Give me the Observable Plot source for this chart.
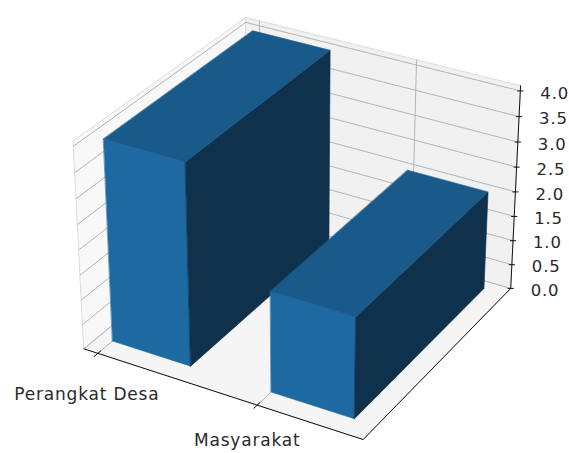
<!DOCTYPE html>
<html><head><meta charset="utf-8">
<script src="https://cdn.jsdelivr.net/npm/d3@7"></script>
<script src="https://cdn.jsdelivr.net/npm/@observablehq/plot@0.6"></script>
<style>html,body{margin:0;padding:0;background:#fff;overflow:hidden}svg{display:block}</style>
</head><body><div id="chart"></div>
<script>
const categories = ["Perangkat Desa", "Masyarakat"];
const xPositions = [0, 1];
const values = [4, 2];
const zTicks = [0, 0.5, 1, 1.5, 2, 2.5, 3, 3.5, 4];
const barWidth = 0.5, barDepth = 1;
const xLim = [-0.09, 1.63], yLim = [-0.095, 1.05], zLim = [0, 4.1];
const colors = {front: "#1d69a1", top: "#195a8a", side: "#0f314b"};

// mplot3d style camera: elev 30, azim -60, dist 10, box aspect 4:4:3
const k = 0.3137;
const box = [4 * k, 4 * k, 3 * k];
const U = [0.8660254, 0.5, 0], V = [-0.25, 0.4330127, 0.8660254], N = [0.4330127, -0.75, 0.5];
const dot = (a, b) => a[0] * b[0] + a[1] * b[1] + a[2] * b[2];
function project([x, y, z]) {
  const p = [
    ((x - xLim[0]) / (xLim[1] - xLim[0]) - 0.5) * box[0],
    ((y - yLim[0]) / (yLim[1] - yLim[0]) - 0.5) * box[1],
    ((z - zLim[0]) / (zLim[1] - zLim[0]) - 0.5) * box[2]
  ];
  const d = 10 - dot(p, N);
  return {px: dot(p, U) / d, py: dot(p, V) / d};
}
const pt = (c, extra) => ({...project(c), ...extra});
const [x0, x1] = xLim, [y0, y1] = yLim, [z0, z1] = zLim;

const poly = (id, fill, cs) => cs.map(c => pt(c, {id, fill}));
const panes = [
  ...poly("left", "#f8f8f8", [[x0,y0,z0],[x0,y1,z0],[x0,y1,z1],[x0,y0,z1]]),
  ...poly("back", "#f1f1f1", [[x0,y1,z0],[x1,y1,z0],[x1,y1,z1],[x0,y1,z1]]),
  ...poly("floor", "#f5f5f5", [[x0,y0,z0],[x1,y0,z0],[x1,y1,z0],[x0,y1,z0]])
];
const grid = [
  ...zTicks.flatMap(z => [[x0,y0,z],[x0,y1,z],[x1,y1,z]].map(c => pt(c, {id: "z" + z}))),
  ...xPositions.flatMap(x => [[x,y0,z0],[x,y1,z0],[x,y1,z1]].map(c => pt(c, {id: "x" + x})))
];
const axes = [[x0,y0,z0],[x1,y0,z0],[x1,y1,z0],[x1,y1,z1]].map(c => pt(c, {id: "axes"}));
const faces = xPositions.flatMap((x, i) => {
  const a = x, b = x + barWidth, c = 0, d = barDepth, h = values[i];
  return [
    ...poly("f" + i, colors.front, [[a,c,0],[b,c,0],[b,c,h],[a,c,h]]),
    ...poly("s" + i, colors.side, [[b,c,0],[b,d,0],[b,d,h],[b,c,h]]),
    ...poly("t" + i, colors.top, [[a,c,h],[b,c,h],[b,d,h],[a,d,h]])
  ];
});
const zTickRows = zTicks.map(z => ({...project([x1, y1, z]), label: z.toFixed(1)}));
const xTickRows = xPositions.map((x, i) => {
  const a = project([x, y0 - 0.025, z0]), b = project([x, y0 + 0.02, z0]);
  return {x1: a.px, y1: a.py, x2: b.px, y2: b.py, ...project([x, y0, z0]), label: categories[i]};
});
const tickHalf = 0.0012;
const textFill = "#2a2a2a";

const chart = Plot.plot({
  width: 569, height: 453, margin: 0,
  x: {domain: [-301 / 2547, (569 - 301) / 2547], axis: null},
  y: {domain: [(217.3 - 453) / 2518, 217.3 / 2518], axis: null},
  style: {fontFamily: "DejaVu Sans", background: "#fff", letterSpacing: "0.8px"},
  marks: [
    Plot.line(panes, {x: "px", y: "py", z: "id", fill: "fill", stroke: "#dcdcdc", strokeWidth: 1, curve: "linear-closed"}),
    Plot.line(grid, {x: "px", y: "py", z: "id", stroke: "#b4b4b4", strokeWidth: 1}),
    Plot.line(axes, {x: "px", y: "py", z: "id", stroke: "#111", strokeWidth: 1}),
    Plot.link(zTickRows, {x1: d => d.px - tickHalf, x2: d => d.px + tickHalf, y1: "py", y2: "py", stroke: "#111", strokeWidth: 1}),
    Plot.link(xTickRows, {x1: "x1", y1: "y1", x2: "x2", y2: "y2", stroke: "#111", strokeWidth: 1}),
    Plot.line(faces, {x: "px", y: "py", z: "id", fill: "fill", stroke: "fill", strokeWidth: 0.6, curve: "linear-closed"}),
    Plot.text(zTickRows, {x: "px", y: "py", text: "label", textAnchor: "start", dx: 20, dy: 2.5, fontSize: 16.5, fill: textFill}),
    Plot.text(xTickRows.slice(0, 1), {x: "px", y: "py", text: "label", dx: -11, dy: 41, fontSize: 17, fill: textFill}),
    Plot.text(xTickRows.slice(1), {x: "px", y: "py", text: "label", dx: -10, dy: 35, fontSize: 17, fill: textFill})
  ]
});
document.getElementById("chart").append(chart);
</script></body></html>
